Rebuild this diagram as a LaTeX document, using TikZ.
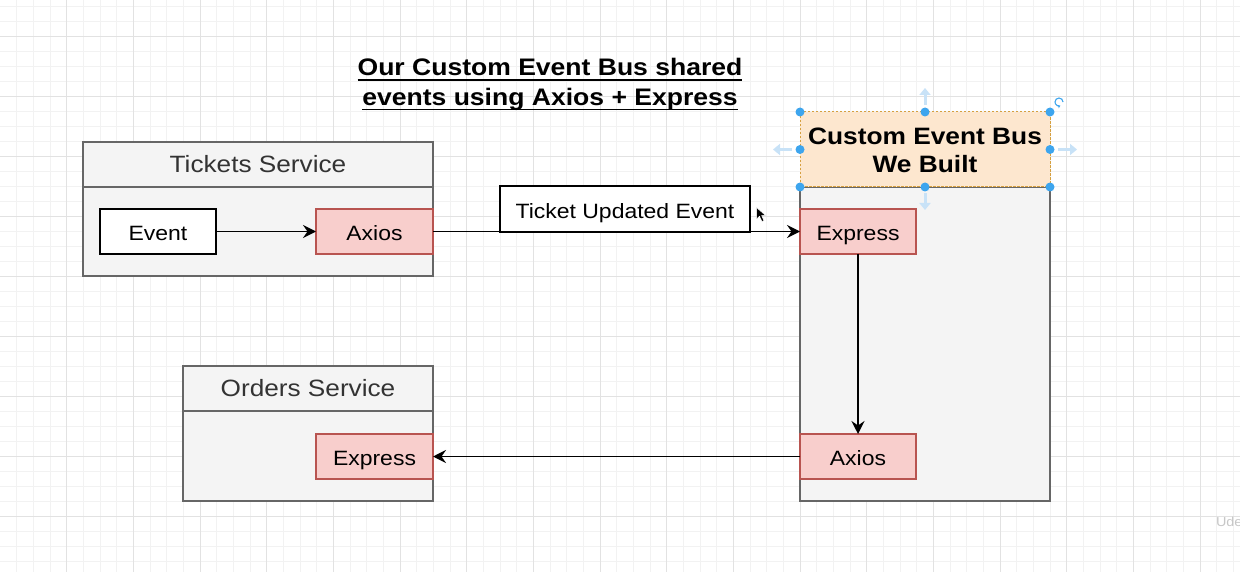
\documentclass[tikz,border=0pt]{standalone}
\usepackage{fontspec}
\setmainfont{Liberation Sans}[FakeStretch=1.11]
\usetikzlibrary{arrows.meta}

\definecolor{gridminor}{HTML}{F2F2F2}
\definecolor{gridmajor}{HTML}{E2E2E2}
\definecolor{panelfill}{HTML}{F4F4F4}
\definecolor{panelline}{HTML}{666666}
\definecolor{headtext}{HTML}{333333}
\definecolor{redfill}{HTML}{F8CECC}
\definecolor{redline}{HTML}{B85450}
\definecolor{orangefill}{HTML}{FDE7CF}
\definecolor{orangeline}{HTML}{D6A040}
\definecolor{handleblue}{HTML}{3DA5EE}
\definecolor{handlelight}{HTML}{C8E2F7}

% underline of fixed offset and thickness under one line of text
\newcommand\ulinetext[1]{\setbox0=\hbox{#1}\rlap{\rule[-5pt]{\wd0}{1.8pt}}\box0}

\begin{document}
\begin{tikzpicture}[x=1pt,y=-1pt,
  every node/.style={inner sep=0pt, outer sep=0pt},
  panel/.style={draw=panelline, fill=panelfill, line width=1.4pt},
  panelhead/.style={panel, text=headtext, font=\fontsize{23.6}{28}\selectfont,
    text height=16.9pt, text depth=0pt},
  labelfont/.style={font=\fontsize{20.7}{25}\selectfont, text height=18.6pt, text depth=0pt},
  redbox/.style={draw=redline, fill=redfill, line width=1.2pt, labelfont,
    minimum width=116pt, minimum height=45pt},
  plainbox/.style={draw=black, fill=white, line width=1.4pt, labelfont},
  flow/.style={line width=1.8pt, -{Stealth[length=13pt,width=13pt,inset=4.5pt]}},
  handle/.style={circle, fill=handleblue, minimum size=9pt},
  hintarrow/.style={line width=3pt, draw=handlelight, -{Triangle[length=7pt,width=11pt]}},
  titlefont/.style={font=\bfseries\fontsize{23.9}{29}\selectfont, text height=17pt, text depth=0pt}
]
\useasboundingbox (0,0) rectangle (1240,572);
\clip (0,0) rectangle (1240,572);
\fill[white] (0,0) rectangle (1240,572);

% background grid
\foreach \i in {1,...,74} \draw[gridminor, line width=0.8pt] (\i*16.6667,0) -- (\i*16.6667,572);
\foreach \j in {0,...,38} \draw[gridminor, line width=0.8pt] (0,6.6667+\j*15) -- (1240,6.6667+\j*15);
\foreach \i in {1,...,18} \draw[gridmajor, line width=1pt] (\i*66.6667,0) -- (\i*66.6667,572);
\foreach \j in {0,...,9} \draw[gridmajor, line width=1pt] (0,36.6667+\j*60) -- (1240,36.6667+\j*60);

% title
\node[titlefont] (title1) at (550,67.5) {\ulinetext{Our Custom Event Bus shared}};
\node[titlefont] (title2) at (550,97) {\ulinetext{events using Axios + Express}};

% tickets service
\node[panel, minimum width=350pt, minimum height=89pt] (tkbody) at (258,231.5) {};
\node[panelhead, minimum width=350pt, minimum height=45pt] (tkhead) at (258,164.5) {Tickets Service};
\node[plainbox, minimum width=116pt, minimum height=45pt] (event) at (158,231.5) {Event};
\node[redbox, minimum width=117pt] (tkaxios) at (374.5,231.5) {Axios};

% orders service
\node[panel, minimum width=250pt, minimum height=90pt] (orbody) at (308,456) {};
\node[panelhead, minimum width=250pt, minimum height=45pt] (orhead) at (308,388.5) {Orders Service};
\node[redbox, minimum width=117pt] (orexpress) at (374.5,456.5) {Express};

% event bus
\node[panel, minimum width=250pt, minimum height=314pt] (busbody) at (925,344) {};
\node[fill=orangefill, minimum width=250pt, minimum height=75pt] (bushead) at (925,149.5) {};
\draw[orangeline, line width=1pt, dash pattern=on 2.5pt off 1.5pt] (bushead.north west) rectangle (bushead.south east);
\node[font=\bfseries\fontsize{23.7}{28}\selectfont, align=center] (bustitle) at (925,150) {Custom Event Bus\\We Built};
\node[redbox] (busexpress) at (858,231.5) {Express};
\node[redbox] (busaxios) at (858,456.5) {Axios};

% connectors
\draw[flow] (event) -- (tkaxios);
\draw[flow] (tkaxios) -- (busexpress);
\draw[flow] (busexpress) -- (busaxios);
\draw[flow] (busaxios) -- (orexpress);
\node[plainbox, minimum width=250pt, minimum height=46pt] (evlabel) at (625,209) {Ticket Updated Event};

% selection handles on the bus header
\draw[hintarrow] ([yshift=7pt]bushead.north) -- ++(0,-17);
\draw[hintarrow] ([yshift=-6pt]bushead.south) -- ++(0,17);
\draw[hintarrow] ([xshift=-8pt]bushead.west) -- ++(-19,0);
\draw[hintarrow] ([xshift=8pt]bushead.east) -- ++(19,0);
\foreach \a [count=\k] in {north west,north,north east,west,east,south west,south,south east}
  \node[handle] (h\k) at (bushead.\a) {};
\draw[handleblue, line width=1.1pt, -{Stealth[length=2.5pt,width=3.5pt]}]
  (1063,102) arc[start angle=0, end angle=-290, radius=4];

% pointer
\filldraw[fill=black, draw=white, line width=0.5pt]
  (756.5,207.5) -- (756.5,219) -- (759.5,216.3) -- (762,221.5) -- (764,220.6) -- (761.6,215.6) -- (765.5,215.4) -- cycle;

% corner mark
\node[anchor=west, text=black!22, font=\fontsize{13}{15}\selectfont] (mark) at (1216,522) {Ude};
\end{tikzpicture}
\end{document}
